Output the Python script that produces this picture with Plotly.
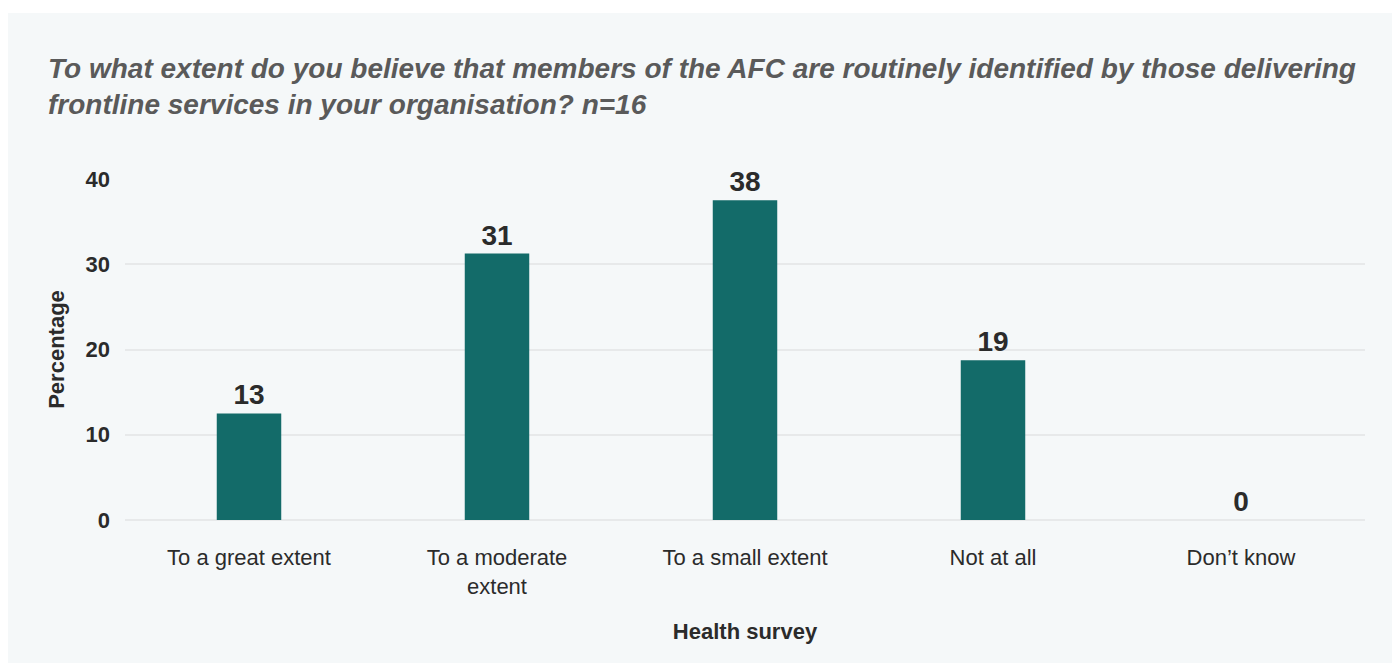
import plotly.graph_objects as go

# Survey responses (percent of n=16)
categories = ["To a great extent", "To a moderate<br>extent", "To a small extent", "Not at all", "Don’t know"]
percentages = [12.5, 31.25, 37.5, 18.75, 0]
y_ticks = [0, 10, 20, 30, 40]

TITLE = ("To what extent do you believe that members of the AFC are routinely identified by those delivering<br>"
         "frontline services in your organisation? n=16")

W, H = 1392, 668
ML, MR, MT, MB = 125, 27, 179, 148
PW, PH = W - ML - MR, H - MT - MB

def px_to_paper_x(px):
    return (px - ML) / PW

def px_to_paper_y(py):
    return (H - MB - py) / PH

PANEL = "#f5f8f9"
BAR = "#136b69"
TEXT = "#2b2b2b"
FONT = "Liberation Sans, Arial, Helvetica, sans-serif"

fig = go.Figure(
    go.Bar(
        x=categories,
        y=percentages,
        marker=dict(color=BAR, line=dict(width=0)),
        texttemplate="%{y:.0f}",
        textposition="outside",
        textfont=dict(size=28, color=TEXT, family=FONT, weight="bold"),
        cliponaxis=False,
        hoverinfo="skip",
    )
)

fig.update_layout(
    width=W,
    height=H,
    margin=dict(l=ML, r=MR, t=MT, b=MB),
    paper_bgcolor="white",
    plot_bgcolor=PANEL,
    bargap=0.74,
    showlegend=False,
    font=dict(family=FONT, color=TEXT),
    title=dict(
        text=TITLE,
        x=48 / W,
        xanchor="left",
        xref="container",
        y=1 - 78 / H,
        yanchor="top",
        yref="container",
        font=dict(size=28, color="#5a5a5a", family=FONT, weight="bold", style="italic"),
    ),
    shapes=[
        dict(
            type="rect",
            xref="paper", yref="paper",
            x0=px_to_paper_x(8), x1=px_to_paper_x(W + 5),
            y0=px_to_paper_y(663), y1=px_to_paper_y(13),
            fillcolor=PANEL, line=dict(width=0), layer="below",
        )
    ],
)

fig.update_xaxes(
    showgrid=False,
    showline=False,
    zeroline=False,
    ticks="",
    ticklabelstandoff=22,
    tickfont=dict(size=22, color=TEXT, family=FONT),
    title=dict(text="Health survey", font=dict(size=22, color=TEXT, family=FONT, weight="bold"), standoff=26),
)

fig.update_yaxes(
    range=[0, 40],
    tickvals=y_ticks,
    showgrid=True,
    gridcolor="#e7e9ea",
    gridwidth=2,
    zeroline=True,
    zerolinecolor="#e7e9ea",
    zerolinewidth=2,
    showline=False,
    ticks="",
    ticklabelstandoff=14,
    tickfont=dict(size=22, color=TEXT, family=FONT, weight="bold"),
    title=dict(text="Percentage", font=dict(size=22, color=TEXT, family=FONT, weight="bold"), standoff=14),
)

fig.write_html("out.html")
